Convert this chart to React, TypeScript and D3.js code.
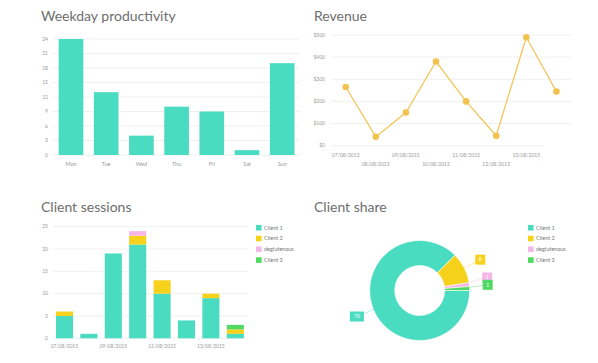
import * as d3 from "d3";

// weekday productivity
const days = ["Mon", "Tue", "Wed", "Thu", "Fri", "Sat", "Sun"];
const productivity = [24, 13, 4, 10, 9, 1, 19];
const productivityTicks = [0, 3, 6, 9, 12, 15, 18, 21, 24];

// revenue
const revenueDates = [
  "07/08/2015", "08/08/2015", "09/08/2015", "10/08/2015",
  "11/08/2015", "12/08/2015", "13/08/2015", "14/08/2015",
];
const revenue = [265, 40, 150, 380, 200, 45, 490, 245];
const revenueTicks = [0, 100, 200, 300, 400, 500];

// client sessions
const sessionDates = revenueDates;
const clientNames = ["Client 1", "Client 2", "deglutenous", "Client 3"];
const client1 = [5, 1, 19, 21, 10, 4, 9, 1];
const client2 = [1, 0, 0, 2, 3, 0, 1, 1];
const deglutenous = [0, 0, 0, 1, 0, 0, 0, 0];
const client3 = [0, 0, 0, 0, 0, 0, 0, 1];
const sessionTicks = [0, 5, 10, 15, 20, 25];

const TEAL = "#4adcc0";
const YELLOW = "#f7d21c";
const PINK = "#f4b6e6";
const GREEN = "#4fd862";
const GOLD = "#f2c24e";
const clientColors = [TEAL, YELLOW, PINK, GREEN];

const FONT = "Lato, 'Open Sans', sans-serif";
const GRID = "#ececec";
const TICK = "#9a9a9a";

function Title({ x, y, text }: { x: number; y: number; text: string }) {
  return (
    <text x={x} y={y} fontSize={14} fill="#6e6e6e" fontFamily={FONT}>
      {text}
    </text>
  );
}

function Weekday() {
  const x = d3.scaleBand().domain(days).range([53.4, 299.8]).paddingInner(0.3).paddingOuter(0.15);
  const y = d3.scaleLinear().domain([0, 24]).range([155, 39]);
  return (
    <g>
      <Title x={41} y={20.5} text="Weekday productivity" />
      {productivityTicks.map((t) => (
        <g key={t}>
          <line x1={53} x2={299} y1={y(t)} y2={y(t)} stroke={GRID} strokeWidth={0.8} />
          <text x={48} y={y(t)} dy="0.35em" textAnchor="end" fontSize={5} fill={TICK}>{t}</text>
        </g>
      ))}
      {days.map((d, i) => (
        <rect key={d} x={x(d)} width={x.bandwidth()} y={y(productivity[i])} height={y(0) - y(productivity[i])} fill={TEAL} />
      ))}
      {days.map((d) => (
        <text key={d} x={x(d)! + x.bandwidth() / 2} y={166} textAnchor="middle" fontSize={5.5} fill={TICK}>{d}</text>
      ))}
    </g>
  );
}

function Revenue() {
  const x = d3.scalePoint().domain(revenueDates).range([345.7, 556.4]);
  const y = d3.scaleLinear().domain([0, 500]).range([145.7, 35]);
  const line = d3.line<number>().x((_, i) => x(revenueDates[i])!).y((d) => y(d));
  const axisEnd = 543;
  return (
    <g>
      <defs>
        <clipPath id="revclip">
          <rect x={300} y={148} width={axisEnd - 300} height={25} />
        </clipPath>
      </defs>
      <Title x={314} y={20.5} text="Revenue" />
      {revenueTicks.map((t) => (
        <g key={t}>
          <line x1={331} x2={t === 0 ? axisEnd : 571} y1={y(t)} y2={y(t)} stroke={GRID} strokeWidth={0.8} />
          <text x={325} y={y(t)} dy="0.35em" textAnchor="end" fontSize={5} fill={TICK}>{"$" + t}</text>
        </g>
      ))}
      <g clipPath="url(#revclip)">
        {revenueDates.map((d, i) => (
          <text key={d} x={x(d)} y={i % 2 === 0 ? 157 : 166} textAnchor="middle" fontSize={5} fill={TICK}>{d}</text>
        ))}
      </g>
      <path d={line(revenue)!} fill="none" stroke={GOLD} strokeWidth={1.2} />
      {revenue.map((v, i) => (
        <circle key={i} cx={x(revenueDates[i])} cy={y(v)} r={3.3} fill={GOLD} />
      ))}
    </g>
  );
}

function Legend({ x, y }: { x: number; y: number }) {
  return (
    <g>
      {clientNames.map((n, i) => (
        <g key={n} transform={`translate(${x},${y + i * 10.8})`}>
          <rect x={0} y={-2.8} width={5.6} height={5.6} fill={clientColors[i]} />
          <text x={8} y={0} dy="0.35em" fontSize={5.5} fill="#777">{n}</text>
        </g>
      ))}
    </g>
  );
}

function Sessions() {
  const rows = sessionDates.map((d, i) => ({
    date: d,
    "Client 1": client1[i],
    "Client 2": client2[i],
    deglutenous: deglutenous[i],
    "Client 3": client3[i],
  }));
  const stacked = d3.stack<any>().keys(clientNames)(rows);
  const x = d3.scaleBand().domain(sessionDates).range([52.3, 247.5]).paddingInner(0.3).paddingOuter(0.15);
  const y = d3.scaleLinear().domain([0, 25]).range([338.3, 226.7]);
  return (
    <g>
      <Title x={41} y={212.3} text="Client sessions" />
      {sessionTicks.map((t) => (
        <g key={t}>
          <line x1={53} x2={248} y1={y(t)} y2={y(t)} stroke={GRID} strokeWidth={0.8} />
          <text x={48} y={y(t)} dy="0.35em" textAnchor="end" fontSize={5} fill={TICK}>{t}</text>
        </g>
      ))}
      {stacked.map((s, k) => (
        <g key={s.key} fill={clientColors[k]}>
          {s.map((p, i) =>
            p[1] > p[0] ? (
              <rect key={i} x={x(sessionDates[i])} width={x.bandwidth()} y={y(p[1])} height={y(p[0]) - y(p[1])} />
            ) : null
          )}
        </g>
      ))}
      {sessionDates.map((d, i) =>
        i % 2 === 0 ? (
          <text key={d} x={x(d)! + x.bandwidth() / 2} y={347.5} textAnchor="middle" fontSize={5} fill={TICK}>{d}</text>
        ) : null
      )}
      <Legend x={256} y={227.7} />
    </g>
  );
}

function Share() {
  const totals = [d3.sum(client1), d3.sum(client2), d3.sum(deglutenous), d3.sum(client3)];
  const cx = 419.7;
  const cy = 290.5;
  const outer = 50;
  const inner = 25;
  const pie = d3.pie<number>().sort(null).startAngle(Math.PI / 2).endAngle(Math.PI / 2 + 2 * Math.PI);
  const arcs = pie(totals);
  const arc = d3.arc<d3.PieArcDatum<number>>().innerRadius(inner).outerRadius(outer);
  const labelR = 68;
  const lift = [0, 0, -5, -3];
  return (
    <g>
      <Title x={314} y={212.3} text="Client share" />
      <g transform={`translate(${cx},${cy})`}>
        {arcs.map((a, i) => (
          <path key={i} d={arc(a)!} fill={clientColors[i]} stroke="#fff" strokeWidth={0.6} />
        ))}
        {arcs.map((a, i) => {
          const m = (a.startAngle + a.endAngle) / 2;
          const sx = Math.sin(m) * outer * 0.7;
          const sy = -Math.cos(m) * outer * 0.7;
          const lx = Math.sin(m) * labelR;
          const ly = -Math.cos(m) * labelR + lift[i];
          const label = String(totals[i]);
          const w = label.length > 1 ? 14 : 10;
          return (
            <g key={i}>
              <line x1={sx} y1={sy} x2={lx} y2={ly} stroke={clientColors[i]} strokeOpacity={0.5} strokeWidth={0.8} />
              <rect x={lx - w / 2} y={ly - 5} width={w} height={10} fill={clientColors[i]} />
              <text x={lx} y={ly} dy="0.35em" textAnchor="middle" fontSize={5} fill="#fff">{label}</text>
            </g>
          );
        })}
      </g>
      <Legend x={528} y={227.7} />
    </g>
  );
}

export default function App() {
  return (
    <svg
      width={598}
      height={363}
      style={{ position: "absolute", left: 0, top: 0, background: "#fff", fontFamily: FONT }}
    >
      <Weekday />
      <Revenue />
      <Sessions />
      <Share />
    </svg>
  );
}
